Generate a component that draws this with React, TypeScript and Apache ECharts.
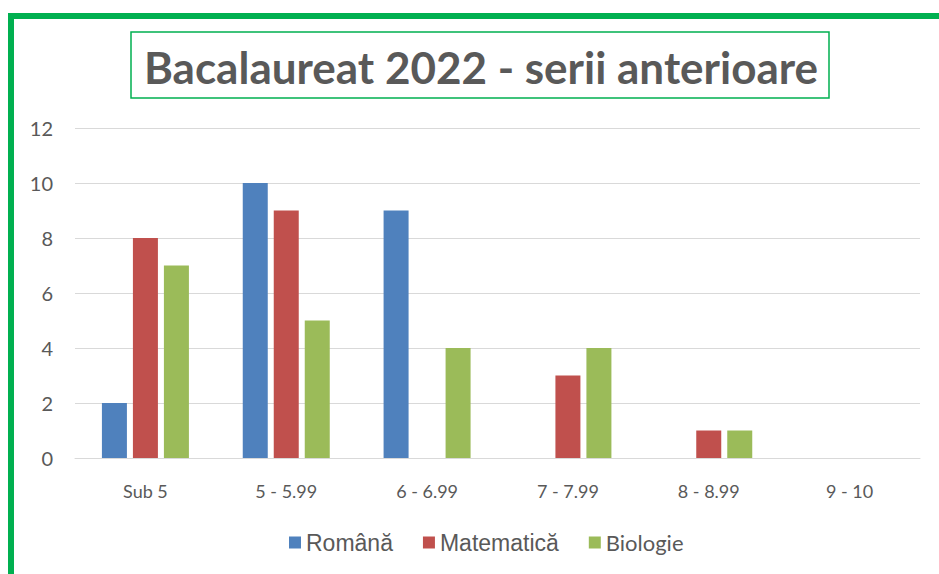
import React, { useEffect, useRef } from "react";
import * as echarts from "echarts";

const categories = ["Sub 5", "5 - 5.99", "6 - 6.99", "7 - 7.99", "8 - 8.99", "9 - 10"];
const romana = [2, 10, 9, 0, 0, 0];
const matematica = [8, 9, 0, 3, 1, 0];
const biologie = [7, 5, 4, 4, 1, 0];
const seriesNames = ["Română", "Matematică", "Biologie"];
const colors = ["#4F81BD", "#C0504D", "#9BBB59"];
const titleText = "Bacalaureat 2022 - serii anterioare";

export default function App() {
  const ref = useRef<HTMLDivElement>(null);
  useEffect(() => {
    if (!ref.current) return;
    const chart = echarts.init(ref.current, undefined, { renderer: "svg" });
    const values = [romana, matematica, biologie];
    chart.setOption({
      animation: false,
      backgroundColor: "#FFFFFF",
      graphic: [
        {
          type: "rect",
          shape: { x: 11, y: 16, width: 1000, height: 1000 },
          style: { fill: "none", stroke: "#00B050", lineWidth: 6 },
          z: 10,
        },
        {
          type: "rect",
          shape: { x: 131, y: 32, width: 698, height: 66 },
          style: { fill: "#FFFFFF", stroke: "#00B050", lineWidth: 1.5 },
          z: 10,
        },
        {
          type: "text",
          x: 481,
          y: 67,
          style: {
            text: titleText,
            fill: "#595959",
            font: "bold 44px Lato",
            align: "center",
            verticalAlign: "middle",
          },
          z: 11,
        },
      ],
      legend: {
        top: 526,
        left: 284,
        itemWidth: 12,
        itemHeight: 12,
        itemGap: 30,
        icon: "rect",
        data: seriesNames,
        textStyle: {
          color: "#595959",
          fontSize: 23,
          fontFamily: "Liberation Sans",
          rich: {
            b: { color: "#595959", fontSize: 22, fontFamily: "Lato" },
          },
        },
        formatter: (n: string) => (n === "Biologie" ? "{b|" + n + "}" : n),
      },
      grid: { left: 75, right: 19, top: 128, bottom: 116, containLabel: false },
      xAxis: {
        type: "category",
        data: categories,
        axisLine: { show: true, lineStyle: { color: "#D9D9D9", width: 1 } },
        axisTick: { show: false },
        axisLabel: { color: "#595959", fontSize: 18, fontFamily: "Lato", margin: 24 },
      },
      yAxis: {
        type: "value",
        min: 0,
        max: 12,
        interval: 2,
        axisLine: { show: false },
        axisTick: { show: false },
        splitLine: { lineStyle: { color: "#D9D9D9", width: 1 } },
        axisLabel: { color: "#595959", fontSize: 20, fontFamily: "Lato", margin: 22 },
      },
      series: seriesNames.map((name, i) => ({
        name,
        type: "bar",
        data: values[i],
        itemStyle: { color: colors[i] },
        barWidth: 25,
        barGap: "24%",
        barCategoryGap: "38%",
      })),
    });
    return () => chart.dispose();
  }, []);
  return (
    <div
      ref={ref}
      style={{ position: "fixed", left: 0, top: 0, width: 939, height: 574 }}
    />
  );
}
